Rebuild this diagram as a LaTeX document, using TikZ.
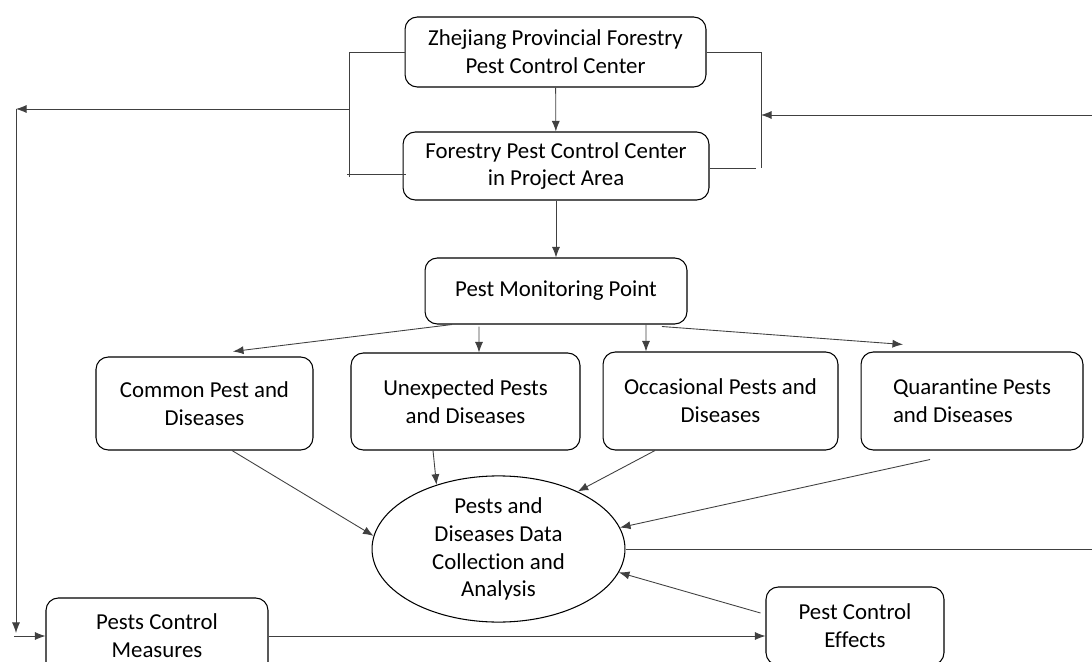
\documentclass[tikz,border=0pt]{standalone}
\usepackage{fontspec}
\setmainfont{Carlito}[Ligatures=NoCommon]
\usepackage{tikz}
\usetikzlibrary{arrows.meta}
\usetikzlibrary{shapes.geometric}
\tikzset{>={Latex[length=6pt,width=4.6pt]}}
\tikzset{
	box/.style={draw, rounded corners=7pt, align=center, inner sep=2pt, line width=0.6pt,
		font=\fontsize{13}{15.9}\selectfont},
	line/.style={draw=black!75, line width=0.5pt},
	link/.style={->, draw=black!75, line width=0.5pt}
}

\begin{document}
\begin{tikzpicture}[x=0.02cm, y=-0.02cm]
				\useasboundingbox (0,0) rectangle (1092,662);

				% organisation
				\node[box, minimum width=6.02cm, minimum height=1.40cm] (zj) at (555.5,52) {Zhejiang Provincial Forestry\\Pest Control Center};
				\node[box, minimum width=6.12cm, minimum height=1.36cm] (area) at (556,166) {Forestry Pest Control Center\\in Project Area};
				\node[box, minimum width=5.24cm, minimum height=1.32cm] (mon) at (556,291) {Pest Monitoring Point};

				% kinds of pests
				\node[box, minimum width=4.34cm, minimum height=1.86cm] (common) at (204.5,403.5) {Common Pest and\\Diseases};
				\node[box, minimum width=4.58cm, minimum height=1.94cm] (unexp) at (465.5,401.5) {Unexpected Pests\\and Diseases};
				\node[box, minimum width=4.70cm, minimum height=1.96cm] (occas) at (720.5,401) {Occasional Pests and\\Diseases};
				\node[box, minimum width=4.44cm, minimum height=1.96cm, align=left] (quar) at (972,401) {Quarantine Pests\\and Diseases};

				\node[box, ellipse, inner sep=0pt, minimum width=5.06cm, minimum height=2.76cm] (data) at (498.5,549) {Pests and\\Diseases Data\\Collection and\\Analysis};

				\node[box, minimum width=4.44cm, minimum height=1.52cm] (meas) at (157,636) {Pests Control\\Measures};
				\node[box, minimum width=3.56cm, minimum height=1.56cm] (eff) at (855,626) {Pest Control\\Effects};

				% free ends of the feedback lines
				\coordinate (lb) at (349,177);
				\coordinate (rb) at (761,168);
				\coordinate (fbl) at (16,109);
				\coordinate (fbr) at (1092,115);
				\coordinate (edge) at (1092,549);

				\draw[link] (zj) -- (area);
				\draw[link] (area) -- (mon);
				\draw[link] ([xshift=-2.08cm]mon.south) -- ([xshift=0.57cm,yshift=0.10cm]common.north);
				\draw[link] ([xshift=-1.54cm,yshift=-0.04cm]mon.south) -- ([xshift=0.27cm]unexp.north);
				\draw[link] ([xshift=1.80cm]mon.south) -- ([xshift=-1.49cm]occas.north);
				\draw[link] ([xshift=2.12cm,yshift=-0.04cm]mon.south) -- ([xshift=-1.38cm,yshift=0.14cm]quar.north);

				\draw[link] ([xshift=0.55cm]common.south) -- (data.174);
				\draw[link] ([xshift=-0.65cm]unexp.south) -- (data.134);
				\draw[link] ([xshift=-1.31cm]occas.south) -- (data.36);
				\draw[link] ([xshift=-0.84cm,yshift=-0.18cm]quar.south) -- (data.10);
				\draw[link] ([xshift=-0.1cm,yshift=0.26cm]eff.west) -- (data.349);
				\draw[link] (meas.east) -- (meas.east -| eff.west);

				% brackets and feedback
				\draw[line] (zj.west) -| (lb);
				\draw[line] ([xshift=0.06cm,yshift=-0.16cm]area.west) -- ([xshift=-0.04cm,yshift=-0.16cm]area.west -| lb);
				\draw[line] (zj.east) -| (rb);
				\draw[line] (area.east |- rb) -- ([xshift=-0.1cm]rb);
				\draw[link] (lb |- fbl) -- (fbl);
				\draw[link] (fbl) -- ([yshift=0.06cm]fbl |- meas.west);
				\draw[link] ([xshift=-0.04cm]fbl |- meas.west) -- (meas.west);
				\draw[link] (fbr) -- (rb |- fbr);
				\draw[line] (data.east) -- (edge);
			\end{tikzpicture}
\end{document}
